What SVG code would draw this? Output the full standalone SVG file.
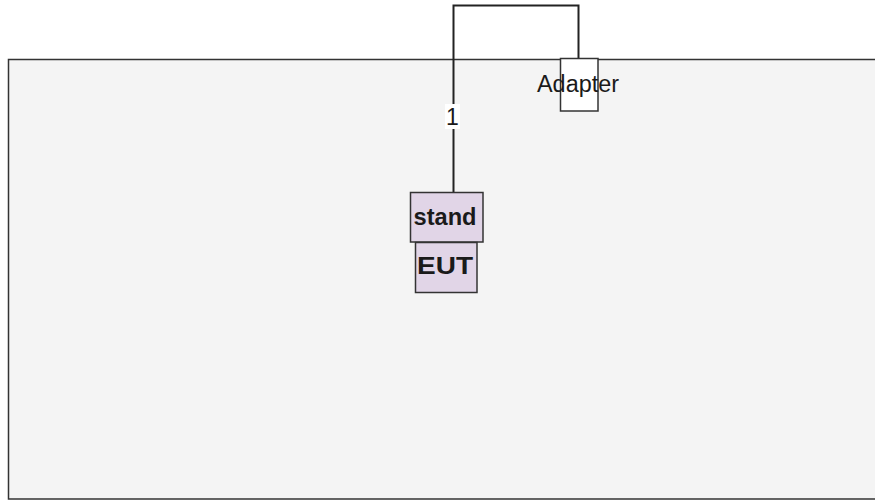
<svg xmlns="http://www.w3.org/2000/svg" width="875" height="501" viewBox="0 0 875 501">
<style>
.box{stroke:#333;stroke-width:1.5}
.lil{fill:#e1d5e7}
.t{font-family:"Liberation Sans",Arial,sans-serif;font-size:23px;fill:#1a1a1a;text-anchor:middle}
.b{font-weight:bold}
.edge{fill:none;stroke:#222;stroke-width:2}
</style>
<rect width="875" height="501" fill="#ffffff"/>
<g id="container">
<rect class="box" x="8.5" y="59.5" width="870" height="439.5" fill="#f4f4f4"/>
</g>
<g id="connectors">
<path class="edge" d="M453.5 192.5 V5.5 H578.5 V58.5"/>
<rect x="445" y="104" width="15" height="25" fill="#ffffff"/>
<text class="t" x="452.5" y="125">1</text>
</g>
<g id="adapter">
<rect class="box" x="560.5" y="58.5" width="37.5" height="52.5" fill="#ffffff"/>
<text class="t" x="578" y="92" textLength="82" lengthAdjust="spacingAndGlyphs">Adapter</text>
</g>
<g id="stand">
<rect class="box lil" x="410.5" y="192.5" width="72.5" height="49.5"/>
<text class="t b" x="445" y="225" textLength="63" lengthAdjust="spacingAndGlyphs">stand</text>
</g>
<g id="eut">
<rect class="box lil" x="415.5" y="242.5" width="61.5" height="50"/>
<text class="t b" x="445" y="273.5" textLength="56" lengthAdjust="spacingAndGlyphs">EUT</text>
</g>
</svg>
